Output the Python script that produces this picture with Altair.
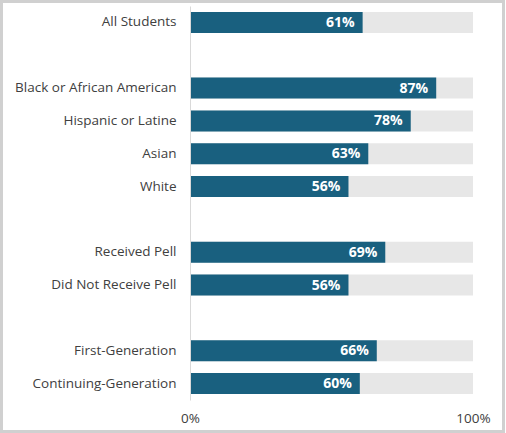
import altair as alt
import pandas as pd

# Share of students in each group
groups = [
    "All Students",
    "Black or African American",
    "Hispanic or Latine",
    "Asian",
    "White",
    "Received Pell",
    "Did Not Receive Pell",
    "First-Generation",
    "Continuing-Generation",
]
shares = [0.61, 0.87, 0.78, 0.63, 0.56, 0.69, 0.56, 0.66, 0.60]

# Row order on the y axis, with empty spacer rows between the blocks
row_order = [
    "All Students", "gap1",
    "Black or African American", "Hispanic or Latine", "Asian", "White", "gap2",
    "Received Pell", "Did Not Receive Pell", "gap3",
    "First-Generation", "Continuing-Generation",
]

df = pd.DataFrame({"group": groups, "share": shares})

FONT = "Open Sans"
BAR = "#19607f"
TRACK = "#e7e7e7"
TEXT = "#404040"

y_enc = alt.Y(
    "group:N",
    sort=row_order,
    scale=alt.Scale(domain=row_order, paddingInner=0.36, paddingOuter=0.18),
    axis=alt.Axis(
        title=None,
        ticks=False,
        domain=True,
        domainColor="#d9d9d9",
        domainWidth=1,
        labelPadding=14,
        labelFont=FONT,
        labelFontSize=13.5,
        labelColor=TEXT,
        labelExpr="indexof(datum.label, 'gap') == 0 ? '' : datum.label",
        zindex=1,
    ),
)

x_scale = alt.Scale(domain=[0, 1], nice=False, zero=True)
x_axis = alt.Axis(
    title=None,
    values=[0, 1],
    format=".0%",
    grid=False,
    ticks=False,
    domain=False,
    labelPadding=11,
    labelFont=FONT,
    labelFontSize=13.5,
    labelColor=TEXT,
    labelFlush=False,
    zindex=1,
)

base = alt.Chart(df)

# Frame around the whole graphic
frame = base.mark_rect(fill="white", stroke="#d0d0d0", strokeWidth=3, clip=False).encode(
    x=alt.value(-188.5),
    x2=alt.value(313.5),
    y=alt.value(-4.5),
    y2=alt.value(425.5),
)

# Light track showing the full 0-100% range
track = base.mark_bar(color=TRACK).encode(
    y=y_enc,
    x=alt.datum(0, scale=x_scale, axis=x_axis),
    x2=alt.datum(1),
)

bars = base.mark_bar(color=BAR).encode(
    y=y_enc,
    x=alt.X("share:Q", scale=x_scale, axis=x_axis),
)

labels = base.mark_text(
    align="right", baseline="middle", dx=-8, dy=0.5,
    color="white", font=FONT, fontWeight="bold", fontSize=14,
).encode(
    y=y_enc,
    x=alt.X("share:Q", scale=x_scale, axis=x_axis),
    text=alt.Text("share:Q", format=".0%"),
)

chart = (
    alt.layer(frame, track, bars, labels)
    .properties(
        width=283,
        height=394,
        autosize=alt.AutoSizeParams(type="none"),
        padding={"left": 190, "top": 6, "right": 33, "bottom": 33},
        background="white",
    )
    .configure_view(stroke=None)
)

chart.save("out.html", embed_options={"renderer": "svg", "actions": False})
